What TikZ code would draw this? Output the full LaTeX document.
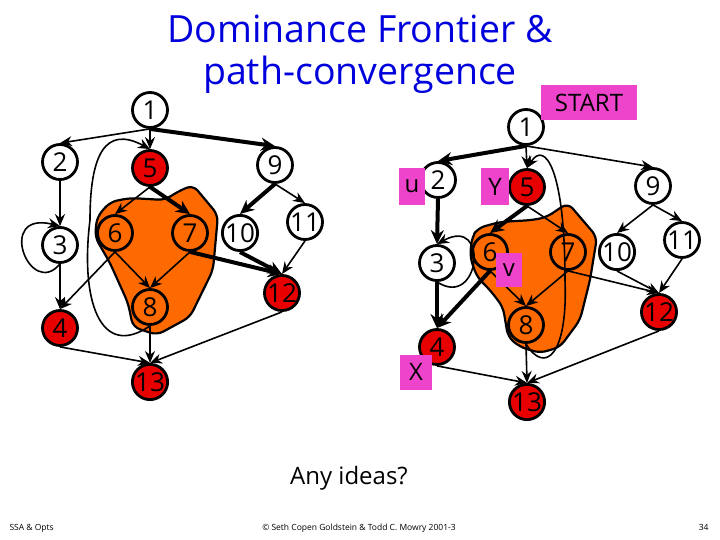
\documentclass[tikz,border=0pt]{standalone}
\usepackage{fontspec}
\setmainfont{Open Sans}
\usetikzlibrary{arrows.meta}
\definecolor{slBlue}{HTML}{0000DD}
\definecolor{slRed}{HTML}{E80000}
\definecolor{slOrange}{HTML}{FF6A00}
\definecolor{slPink}{HTML}{EE44CC}
\tikzset{
  >={Stealth[length=12pt,width=10pt]},
  vtx/.style={circle, draw, line width=2.8pt, minimum size=35pt, inner sep=0pt,
              font=\fontsize{26}{26}\selectfont},
  tag/.style={fill=slPink, inner sep=0pt, font=\fontsize{24}{24}\selectfont},
  blob/.style={draw, line width=2.2pt, fill=slOrange, rounded corners=7pt},
  edge/.style={->, line width=1.6pt},
  heavy/.style={-{Stealth[length=14pt,width=13pt]}, line width=4pt},
  ttl/.style={font=\fontsize{37.5}{42}\selectfont, text=slBlue, anchor=base},
  foot/.style={font=\fontsize{8.5}{10}\selectfont, anchor=base},
}

\begin{document}
\begin{tikzpicture}[x=1pt,y=-1pt]
  \fill[white] (0,0) rectangle (720,540);
  \useasboundingbox (0,0) rectangle (720,540);
  % title
  \node[ttl] (title1) at (360,43) {Dominance Frontier \&};
  \node[ttl] (title2) at (360,85) {path-convergence};
  % orange regions
  \draw[blob] (193,185) -- (218,215) -- (213,270) -- (190,317) -- (157,335)
    -- (133,327) -- (128,303) -- (110,263) -- (95,237) -- (97,217) -- (110,202)
    -- (130,198) -- (165,200) -- (177,192) -- cycle;
  \draw[blob] (568,203) -- (597,237) -- (590,280) -- (580,320) -- (560,347)
    -- (540,353) -- (520,347) -- (508,337) -- (503,307) -- (490,290) -- (477,277)
    -- (470,257) -- (472,237) -- (478,228) -- (500,222) -- (533,220) -- (547,217)
    -- (557,210) -- cycle;
  % left graph
  \foreach \n/\x/\y/\c in {1/150/110/white, 2/60/162/white, 5/150/168/slRed,
      9/275/165/white, 6/115/233/slOrange, 7/190/233/slOrange, 10/240/233/white,
      11/305/222/white, 3/60/245/white, 8/150/307/slOrange, 12/282/293/slRed,
      4/60/328/slRed, 13/150/382/slRed}
    \node[vtx, fill=\c] (a\n) at (\x,\y) {\n};
  \foreach \u/\v in {1/2,1/5,2/3,3/4,5/6,6/8,6/4,7/8,8/13,9/11,11/12,12/13,4/13}
    \draw[edge] (a\u.south) -- (a\v.north);
  \foreach \u/\v in {1/9,5/7,7/12,9/10,10/12}
    \draw[heavy] (a\u.south) -- (a\v.north);
  \draw[edge] (a3.south) .. controls (30,300) and (-5,210) .. (a3.north);
  \draw[edge] (a8.south) .. controls (100,360) and (80,300) .. (90,220)
    .. controls (90,155) and (105,125) .. (a5.north);
  % right graph
  \foreach \n/\x/\y/\c in {1/526/127/white, 2/438/180/white, 5/527/187/slRed,
      9/653/186/white, 6/490/252/slOrange, 7/568/252/slOrange, 10/617/252/white,
      11/682/240/white, 3/437/263/white, 8/526/325/slOrange, 12/659/312/slRed,
      4/437/347/slRed, 13/527/402/slRed}
    \node[vtx, fill=\c] (b\n) at (\x,\y) {\n};
  \foreach \u/\v in {1/5,1/9,5/7,6/8,7/8,7/12,8/13,9/10,9/11,10/12,11/12,12/13,4/13}
    \draw[edge] (b\u.south) -- (b\v.north);
  \foreach \u/\v in {1/2,2/3,3/4,5/6,6/4}
    \draw[heavy] (b\u.south) -- (b\v.north);
  \draw[edge] (b3.south) .. controls (480,310) and (490,215) .. (b3.north);
  \draw[edge] (b8.south) .. controls (545,375) and (568,355) .. (565,280)
    .. controls (565,170) and (545,140) .. (b5.north);
  % labels
  \node[tag, minimum width=96pt, minimum height=35pt] (start) at (589,102.5) {START};
  \node[tag, minimum width=26pt, minimum height=37pt] (u) at (412,186.5) {u};
  \node[tag, minimum width=28pt, minimum height=37pt] (y) at (495,186.5) {Y};
  \node[tag, minimum width=26pt, minimum height=34pt] (v) at (509,270) {v};
  \node[tag, minimum width=32pt, minimum height=35pt] (x) at (416,372) {X};
  \node[font=\fontsize{24}{24}\selectfont, anchor=base] (ideas) at (349,484) {Any ideas?};
  % footer
  \node[foot, anchor=base west] (ftl) at (6,530) {SSA \& Opts};
  \node[foot] (ftc) at (359,530) {© Seth Copen Goldstein \& Todd C. Mowry 2001-3};
  \node[foot, anchor=base east] (ftr) at (712,530) {34};
\end{tikzpicture}
\end{document}
